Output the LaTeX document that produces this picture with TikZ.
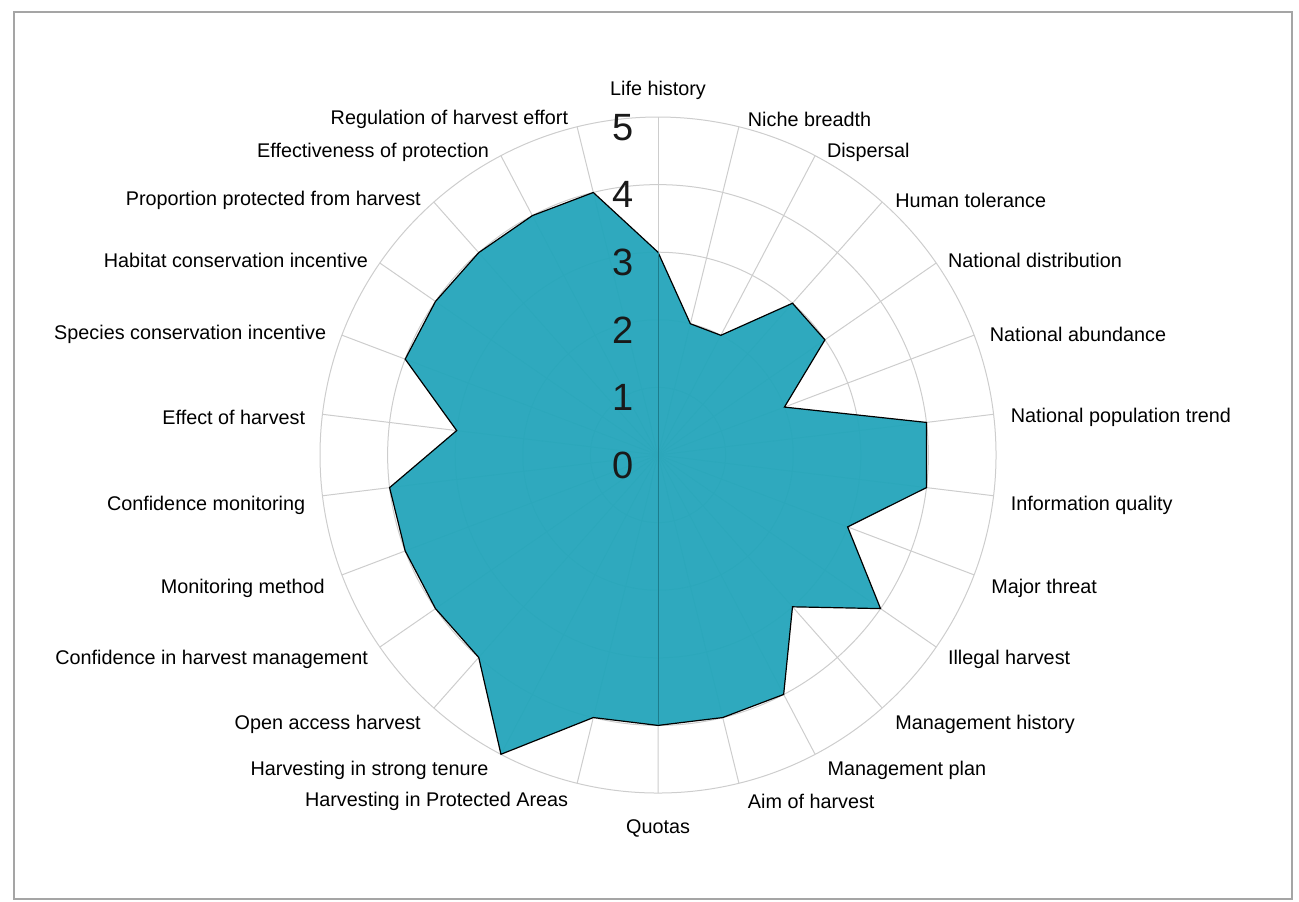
\documentclass[tikz,border=0pt]{standalone}
\usepackage{fontspec}
\setmainfont{Liberation Sans}
\usetikzlibrary{positioning}
\definecolor{chartteal}{RGB}{38,166,187}
\definecolor{framegray}{RGB}{165,165,165}
\definecolor{gridgray}{RGB}{205,205,205}
\newcommand{\gridcolor}{gridgray}
\tikzstyle{every node}=[font=\fontsize{9.9}{11}\selectfont, inner sep=0, outer sep=0]
\tikzstyle{ticknum}=[font=\fontsize{19}{20}\selectfont, text=black!90]

\begin{document}
\begin{tikzpicture}[x=33.8pt, y=33.8pt]
    \useasboundingbox (-9.734,-6.612) rectangle (9.482,6.731);
    \draw[framegray, line width=1pt] (-9.527,-6.568) rectangle (9.379,6.553);
    % web
    \foreach \r in {1,...,5}
        \draw[\gridcolor, line width=.5pt] (0,0) circle (\r);
    \foreach \i in {0,...,25}
        \draw[\gridcolor, line width=.5pt] (0,0) -- ({90-\i*13.846}:5);
    % scores
    \draw[fill=chartteal, fill opacity=.96, line width=.6pt]
        (90:3) -- (76.154:2) -- (62.308:2) -- (48.462:3) -- (34.615:3)
        -- (20.769:2) -- (6.923:4) -- (-6.923:4) -- (-20.769:3) -- (-34.615:4)
        -- (-48.462:3) -- (-62.308:4) -- (-76.154:4) -- (-90:4) -- (-103.846:4)
        -- (-117.692:5) -- (-131.538:4) -- (-145.385:4) -- (-159.231:4)
        -- (-173.077:4) -- (173.077:3) -- (159.231:4) -- (145.385:4)
        -- (131.538:4) -- (117.692:4) -- (103.846:4) -- cycle;
    \draw[chartteal!75!black, line width=.5pt] (90:3) -- (-90:4);
    \node[ticknum] (t0) at (-.52, -.15) {0};
    \node[ticknum] (t1) at (-.52, .85) {1};
    \node[ticknum] (t2) at (-.52, 1.85) {2};
    \node[ticknum] (t3) at (-.52, 2.85) {3};
    \node[ticknum] (t4) at (-.52, 3.85) {4};
    \node[ticknum] (t5) at (-.52, 4.85) {5};
    % axis names
    \node (lifehist) at (0, 5.40) {Life history};
    \node[anchor=west] (niche) at (1.33, 4.96) {Niche breadth};
    \node[anchor=west] (dispersal) at (2.50, 4.48) {Dispersal};
    \node[anchor=west] (tolerance) at (3.51, 3.76) {Human tolerance};
    \node[anchor=west] (natdist) at (4.29, 2.88) {National distribution};
    \node[anchor=west] (natabund) at (4.91, 1.79) {National abundance};
    \node[anchor=west] (nattrend) at (5.22, .55) {National population trend};
    \node[anchor=west] (infoqual) at (5.22, -.74) {Information quality};
    \node[anchor=west] (threat) at (4.93, -1.98) {Major threat};
    \node[anchor=west] (illegal) at (4.29, -3.03) {Illegal harvest};
    \node[anchor=west] (mgmthist) at (3.51, -3.98) {Management history};
    \node[anchor=west] (mgmtplan) at (2.51, -4.66) {Management plan};
    \node[anchor=west] (aim) at (1.33, -5.13) {Aim of harvest};
    \node (quotas) at (0, -5.52) {Quotas};
    \node[anchor=east] (protareas) at (-1.33, -5.13) {Harvesting in Protected Areas};
    \node[anchor=east] (tenure) at (-2.51, -4.66) {Harvesting in strong tenure};
    \node[anchor=east] (openaccess) at (-3.51, -3.98) {Open access harvest};
    \node[anchor=east] (confmgmt) at (-4.29, -3.03) {Confidence in harvest management};
    \node[anchor=east] (monmethod) at (-4.93, -1.98) {Monitoring method};
    \node[anchor=east] (confmon) at (-5.22, -.74) {Confidence monitoring};
    \node[anchor=east] (effect) at (-5.22, .55) {Effect of harvest};
    \node[anchor=east] (speciesinc) at (-4.91, 1.79) {Species conservation incentive};
    \node[anchor=east] (habitatinc) at (-4.29, 2.88) {Habitat conservation incentive};
    \node[anchor=east] (propprot) at (-3.51, 3.76) {Proportion protected from harvest};
    \node[anchor=east] (effprot) at (-2.50, 4.48) {Effectiveness of protection};
    \node[anchor=east] (regeffort) at (-1.33, 4.96) {Regulation of harvest effort};
\end{tikzpicture}
\end{document}
